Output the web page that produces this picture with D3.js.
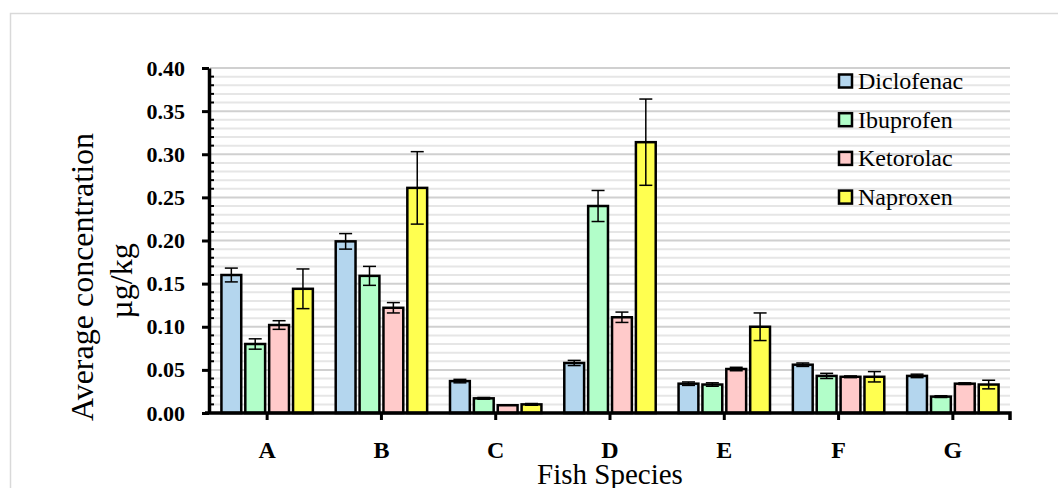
<!DOCTYPE html>
<html>
<head>
<meta charset="utf-8">
<script src="https://cdn.jsdelivr.net/npm/d3@7"></script>
<style>
  body { margin: 0; background: #fff; }
  svg text { font-family: "Liberation Serif", "Times New Roman", serif; fill: #000; }
  .tick text { font-weight: bold; }
</style>
</head>
<body>
<div id="chart"></div>
<script>
// chart data
const species = ["A", "B", "C", "D", "E", "F", "G"];
const drugs = ["Diclofenac", "Ibuprofen", "Ketorolac", "Naproxen"];
const colors = ["#b4d6ee", "#b2fec9", "#ffcaca", "#ffff50"];

const diclofenac = [0.160, 0.199, 0.037, 0.058, 0.034, 0.056, 0.043];
const ibuprofen  = [0.080, 0.159, 0.017, 0.240, 0.033, 0.043, 0.019];
const ketorolac  = [0.102, 0.122, 0.009, 0.111, 0.051, 0.042, 0.034];
const naproxen   = [0.144, 0.261, 0.010, 0.314, 0.100, 0.042, 0.033];

const diclofenacErr = [0.008, 0.009, 0.002, 0.003, 0.002, 0.002, 0.002];
const ibuprofenErr  = [0.006, 0.011, 0.001, 0.018, 0.002, 0.003, 0.001];
const ketorolacErr  = [0.005, 0.006, 0.000, 0.006, 0.002, 0.001, 0.001];
const naproxenErr   = [0.023, 0.042, 0.001, 0.050, 0.016, 0.006, 0.005];

const yTicks = [0, 0.05, 0.10, 0.15, 0.20, 0.25, 0.30, 0.35, 0.40];

const values = [diclofenac, ibuprofen, ketorolac, naproxen];
const errors = [diclofenacErr, ibuprofenErr, ketorolacErr, naproxenErr];

let rows = [];
species.forEach((s, i) => {
  drugs.forEach((d, j) => {
    rows.push({ species: s, drug: d, value: values[j][i], err: errors[j][i], color: colors[j] });
  });
});

let width = 1058;
let height = 488;
let plotLeft = 210, plotRight = 1010, plotTop = 68, plotBottom = 413;
let serif = "Liberation Serif";

let svg = d3.select("#chart").append("svg")
  .attr("width", width)
  .attr("height", height)
  .attr("font-family", serif);

// outer frame (only top and left edges show)
svg.append("rect")
  .attr("x", 10.5).attr("y", 13.5)
  .attr("width", 1200).attr("height", 600)
  .attr("fill", "none")
  .attr("stroke", "#d9d9d9")
  .attr("stroke-width", 1.5);

let yScale = d3.scaleLinear().domain([0, 0.4]).range([plotBottom, plotTop]);
let x0 = d3.scaleBand().domain(species).range([plotLeft, plotRight]).paddingInner(0.2).paddingOuter(0.1);
let x1 = d3.scaleBand().domain(drugs).range([0, x0.bandwidth()]).paddingInner(0.17);

//gridlines, minor every 0.01 and major every 0.05
let minor = d3.range(1, 41).map(d => d / 100);
svg.selectAll(".grid")
  .data(minor)
  .enter()
  .append("line")
  .attr("x1", plotLeft).attr("x2", plotRight)
  .attr("y1", d => yScale(d)).attr("y2", d => yScale(d))
  .attr("stroke", (d, i) => (i + 1) % 5 == 0 ? "#d0d0d0" : "#e6e6e6")
  .attr("stroke-width", 2);

//bars
svg.selectAll(".bar")
  .data(rows)
  .enter()
  .append("rect")
  .attr("x", d => x0(d.species) + x1(d.drug))
  .attr("y", d => yScale(d.value))
  .attr("width", x1.bandwidth())
  .attr("height", d => plotBottom - yScale(d.value))
  .attr("fill", d => d.color)
  .attr("stroke", "#000")
  .attr("stroke-width", 2.5);

//error bars
let errG = svg.append("g").attr("stroke", "#000").attr("stroke-width", 1.5);
let cx = d => x0(d.species) + x1(d.drug) + x1.bandwidth() / 2;
errG.selectAll(".ev").data(rows).enter().append("line")
  .attr("x1", cx).attr("x2", cx)
  .attr("y1", d => yScale(d.value + d.err))
  .attr("y2", d => yScale(d.value - d.err));
errG.selectAll(".et").data(rows).enter().append("line")
  .attr("x1", d => cx(d) - 6.5).attr("x2", d => cx(d) + 6.5)
  .attr("y1", d => yScale(d.value + d.err))
  .attr("y2", d => yScale(d.value + d.err));
errG.selectAll(".eb").data(rows).enter().append("line")
  .attr("x1", d => cx(d) - 6.5).attr("x2", d => cx(d) + 6.5)
  .attr("y1", d => yScale(d.value - d.err))
  .attr("y2", d => yScale(d.value - d.err));

//y axis minor ticks (inside)
svg.selectAll(".ymin")
  .data(minor.filter((d, i) => (i + 1) % 5 != 0))
  .enter()
  .append("line")
  .attr("x1", plotLeft).attr("x2", plotLeft + 4)
  .attr("y1", d => yScale(d)).attr("y2", d => yScale(d))
  .attr("stroke", "#000").attr("stroke-width", 2);

//y axis
let yAxis = d3.axisLeft(yScale).tickValues(yTicks).tickFormat(d3.format(".2f")).tickSize(7).tickSizeOuter(0);
let yg = svg.append("g")
  .attr("transform", `translate(${plotLeft - 1},0)`)
  .call(yAxis)
  .attr("font-family", serif)
  .attr("font-size", 22);
yg.select(".domain").attr("stroke-width", 3.5);
yg.selectAll(".tick line").attr("stroke-width", 3);
yg.selectAll(".tick text").attr("x", -24);

//x axis
let xAxis = d3.axisBottom(x0).tickSize(7).tickSizeOuter(7);
let xg = svg.append("g")
  .attr("transform", `translate(0,${plotBottom})`)
  .call(xAxis)
  .attr("font-family", serif)
  .attr("font-size", 24);
xg.select(".domain").attr("stroke-width", 3.5).attr("d", `M${plotLeft - 5},0H${plotRight}V7`);
xg.selectAll(".tick line").attr("stroke-width", 3);
xg.selectAll(".tick text").attr("y", 45).attr("dy", null);

//axis titles
svg.append("text")
  .attr("transform", "translate(93,277) rotate(-90)")
  .attr("text-anchor", "middle")
  .attr("font-size", 32)
  .text("Average concentration");
svg.append("text")
  .attr("transform", "translate(132,281) rotate(-90)")
  .attr("text-anchor", "middle")
  .attr("font-size", 32)
  .text("µg/kg");
svg.append("text")
  .attr("x", (plotLeft + plotRight) / 2)
  .attr("y", 484)
  .attr("text-anchor", "middle")
  .attr("font-size", 29)
  .text("Fish Species");

//legend
let legend = svg.selectAll(".legend")
  .data(drugs)
  .enter()
  .append("g")
  .attr("transform", (d, i) => `translate(839,${81 + i * 38.7})`);
legend.append("rect")
  .attr("x", 0).attr("y", -6.5)
  .attr("width", 13).attr("height", 13)
  .attr("fill", (d, i) => colors[i])
  .attr("stroke", "#000").attr("stroke-width", 2.5);
legend.append("text")
  .attr("x", 19).attr("y", 8)
  .attr("font-size", 24)
  .text(d => d);
</script>
</body>
</html>
